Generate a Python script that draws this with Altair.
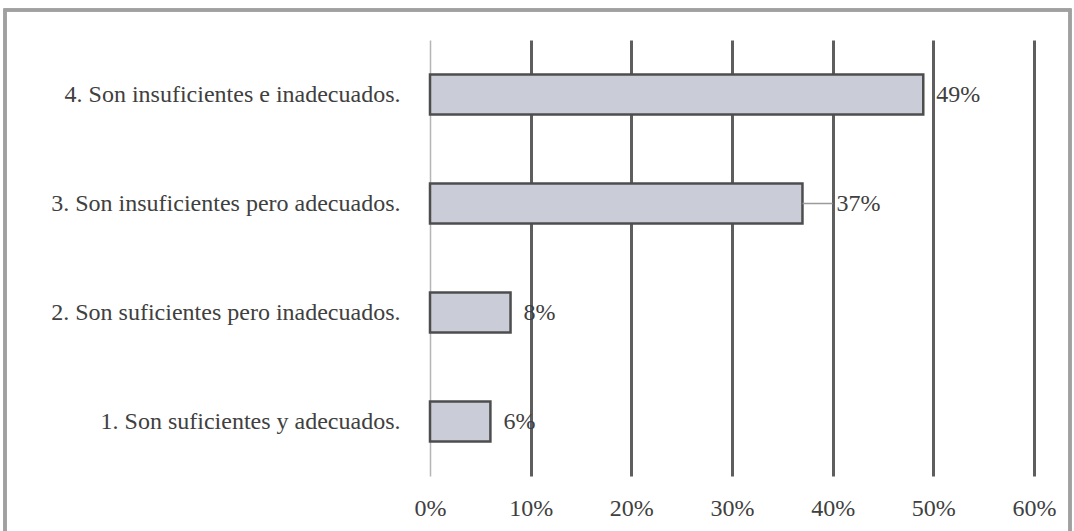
import altair as alt
import pandas as pd

# Survey answers (top to bottom) and their share of responses
categories = [
    "4. Son insuficientes e inadecuados.",
    "3. Son insuficientes pero adecuados.",
    "2. Son suficientes pero inadecuados.",
    "1. Son suficientes y adecuados.",
]
percentages = [49, 37, 8, 6]
# answers whose value label sits further out, joined to the bar by a short leader
leader_lines = ["3. Son insuficientes pero adecuados."]
x_ticks = [0, 10, 20, 30, 40, 50, 60]

df = pd.DataFrame({"categoria": categories, "pct": percentages})
df["label"] = df["pct"].astype(str) + "%"
df["leader"] = df["categoria"].isin(leader_lines)

FONT = "'Liberation Serif', 'Times New Roman', Times, serif"
SIZE = 24
TEXT = "#404040"

y_enc = alt.Y(
    "categoria:N",
    sort=categories,
    title=None,
    scale=alt.Scale(paddingInner=0.0, paddingOuter=0.0),
    axis=alt.Axis(
        domain=False,
        ticks=False,
        grid=False,
        labelPadding=30,
        labelFont=FONT,
        labelFontSize=SIZE,
        labelColor=TEXT,
        labelLimit=500,
    ),
)
x_enc = alt.X(
    "pct:Q",
    title=None,
    scale=alt.Scale(domain=[0, 60], nice=False),
    axis=alt.Axis(
        values=x_ticks,
        labelExpr="datum.value + '%'",
        labelFlush=False,
        domain=False,
        ticks=False,
        grid=True,
        gridColor={"condition": {"test": "datum.value === 0", "value": "#b5b5b5"}, "value": "#5e5e5e"},
        gridWidth={"condition": {"test": "datum.value === 0", "value": 1.5}, "value": 3},
        labelPadding=20,
        labelFont=FONT,
        labelFontSize=SIZE,
        labelColor=TEXT,
    ),
)

bars = alt.Chart(df).mark_bar(
    size=40, fill="#cacdd7", stroke="#4d4d4d", strokeWidth=2.5
).encode(y=y_enc, x=x_enc)

plain_labels = alt.Chart(df).transform_filter("!datum.leader").mark_text(
    align="left", baseline="middle", dx=13, font=FONT, fontSize=SIZE, color=TEXT
).encode(y=alt.Y("categoria:N", sort=categories), x="pct:Q", text="label:N")

leader_labels = alt.Chart(df).transform_filter("datum.leader").mark_text(
    align="left", baseline="middle", dx=34, font=FONT, fontSize=SIZE, color=TEXT
).encode(y=alt.Y("categoria:N", sort=categories), x="pct:Q", text="label:N")

leaders = alt.Chart(df).transform_filter("datum.leader").transform_calculate(
    lead_end="datum.pct + 3"
).mark_rule(color="#9a9a9a", strokeWidth=1.5).encode(
    y=alt.Y("categoria:N", sort=categories),
    x="pct:Q",
    x2="lead_end:Q",
)

# outer frame around the whole figure
frame = alt.Chart(df).mark_rect(
    fill=None, stroke="#a0a0a0", strokeWidth=3, clip=False
).encode(
    x=alt.value(-425), x2=alt.value(640), y=alt.value(-30), y2=alt.value(600)
)

chart = (
    alt.layer(frame, bars, leaders, plain_labels, leader_labels)
    .properties(
        width=604,
        height=436,
        autosize=alt.AutoSizeParams(type="none"),
        padding={"left": 430, "top": 40, "right": 40, "bottom": 55},
        background="white",
    )
    .configure_view(stroke=None)
)

chart.save("out.html", embed_options={"renderer": "svg", "actions": False})
